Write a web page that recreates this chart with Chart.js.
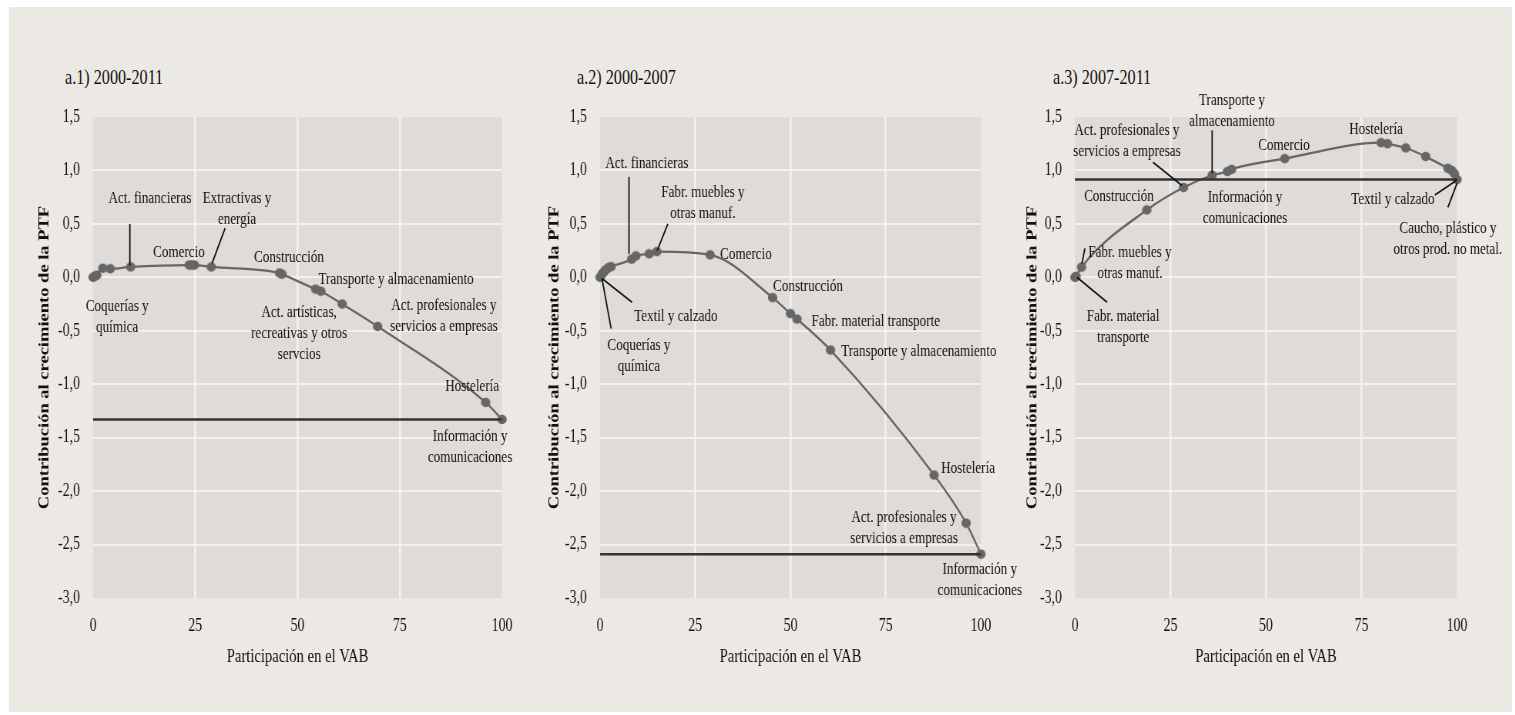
<!DOCTYPE html>
<html>
<head>
<meta charset="utf-8">
<script src="https://cdn.jsdelivr.net/npm/chart.js@4.4.0/dist/chart.umd.min.js"></script>
<style>
  html, body { margin: 0; padding: 0; background: #ffffff; width: 1515px; height: 715px; overflow: hidden; }
  #fondo { position: absolute; left: 9px; top: 7px; width: 1503px; height: 705px; background: #ece8e4; }
  .titulo { position: absolute; font-family: "Liberation Serif", "Times New Roman", serif; font-size: 21px;
            color: #111111; line-height: 24px; white-space: nowrap; transform: scaleX(0.77); transform-origin: 0 50%; }
  canvas { position: absolute; }
</style>
</head>
<body>
<div id="fondo"></div>
<div class="titulo" style="left:65px; top:65px">a.1) 2000-2011</div>
<div class="titulo" style="left:577px; top:65px">a.2) 2000-2007</div>
<div class="titulo" style="left:1053px; top:65px">a.3) 2007-2011</div>
<canvas id="g1"></canvas>
<canvas id="g2"></canvas>
<canvas id="g3"></canvas>
<script>
// a.1) 2000-2011 : participación acumulada en el VAB (x) y contribución acumulada a la PTF (y)
const part1 = [0, 0.4, 0.9, 2.4, 4.2, 9.2, 23.5, 24.2, 24.8, 28.9, 45.6, 46.2, 54.4, 55.7, 60.9, 69.6, 96.0, 100];
const contr1 = [0, 0.01, 0.02, 0.085, 0.08, 0.097, 0.115, 0.115, 0.115, 0.097, 0.04, 0.03, -0.11, -0.13, -0.25, -0.46, -1.17, -1.33];
const total1 = -1.33;

// a.2) 2000-2007
const part2 = [0, 0.5, 1, 1.5, 2.2, 2.9, 8.3, 9.4, 12.9, 14.9, 28.9, 45.3, 50.0, 51.7, 60.5, 87.7, 96.1, 100];
const contr2 = [0, 0.03, 0.05, 0.07, 0.09, 0.1, 0.17, 0.2, 0.22, 0.24, 0.21, -0.19, -0.34, -0.39, -0.68, -1.85, -2.3, -2.59];
const total2 = -2.59;

// a.3) 2007-2011
const part3 = [0, 0.3, 1.7, 18.8, 28.4, 35.9, 39.9, 41.0, 54.9, 80.1, 81.8, 86.6, 91.8, 97.6, 98.6, 99.3, 100];
const contr3 = [0, 0.01, 0.095, 0.63, 0.84, 0.955, 0.99, 1.01, 1.11, 1.26, 1.25, 1.21, 1.13, 1.02, 1.0, 0.97, 0.915];
const total3 = 0.915;

// ejes
const xTicks = [0, 25, 50, 75, 100];
const yTicks = [-3.0, -2.5, -2.0, -1.5, -1.0, -0.5, 0.0, 0.5, 1.0, 1.5];
const xTitle = 'Participación en el VAB';
const yTitle = 'Contribución al crecimiento de la PTF';

// etiquetas de sectores (posición del texto y línea guía en unidades de los ejes)
const etiquetas1 = [
  { t: ['Act. financieras'], x: 13.9, y: 0.74, guia: [9.0, 0.50, 9.0, 0.11] },
  { t: ['Extractivas y', 'energía'], x: 35.2, y: 0.74, guia: [32.3, 0.46, 29.1, 0.13] },
  { t: ['Comercio'], x: 21.0, y: 0.234 },
  { t: ['Construcción'], x: 47.9, y: 0.187 },
  { t: ['Transporte y almacenamiento'], x: 74.1, y: -0.019 },
  { t: ['Act. profesionales y', 'servicios a empresas'], x: 85.8, y: -0.26 },
  { t: ['Act. artísticas,', 'recreativas y otros', 'servcios'], x: 50.4, y: -0.33 },
  { t: ['Coquerías y', 'química'], x: 5.9, y: -0.27 },
  { t: ['Hostelería'], x: 92.7, y: -1.02 },
  { t: ['Información y', 'comunicaciones'], x: 92.2, y: -1.49 }
];
const etiquetas2 = [
  { t: ['Act. financieras'], x: 12.3, y: 1.06, guia: [7.6, 0.94, 7.6, 0.22] },
  { t: ['Fabr. muebles y', 'otras manuf.'], x: 27.0, y: 0.79, guia: [17.8, 0.50, 15.0, 0.25] },
  { t: ['Comercio'], x: 38.3, y: 0.215 },
  { t: ['Construcción'], x: 54.6, y: -0.084 },
  { t: ['Fabr. material transporte'], x: 72.4, y: -0.41 },
  { t: ['Transporte y almacenamiento'], x: 83.7, y: -0.69 },
  { t: ['Textil y calzado'], x: 19.9, y: -0.365, guia: [0.5, -0.01, 8.4, -0.234] },
  { t: ['Coquerías y', 'química'], x: 10.2, y: -0.64, guia: [0.5, -0.01, 2.9, -0.48] },
  { t: ['Hostelería'], x: 96.6, y: -1.79 },
  { t: ['Act. profesionales y', 'servicios a empresas'], x: 79.8, y: -2.245 },
  { t: ['Información y', 'comunicaciones'], x: 99.7, y: -2.73 }
];
const etiquetas3 = [
  { t: ['Transporte y', 'almacenamiento'], x: 41.1, y: 1.65, guia: [35.9, 1.375, 35.9, 0.973] },
  { t: ['Act. profesionales y', 'servicios a empresas'], x: 13.6, y: 1.37, guia: [20.4, 1.076, 28.0, 0.86] },
  { t: ['Comercio'], x: 54.7, y: 1.235 },
  { t: ['Hostelería'], x: 78.8, y: 1.385 },
  { t: ['Construcción'], x: 11.5, y: 0.76 },
  { t: ['Información y', 'comunicaciones'], x: 44.5, y: 0.75 },
  { t: ['Textil y calzado'], x: 83.2, y: 0.73, guia: [94.2, 0.77, 100, 0.91] },
  { t: ['Caucho, plástico y', 'otros prod. no metal.'], x: 97.6, y: 0.46, guia: [97.6, 0.655, 100, 0.88] },
  { t: ['Fabr. muebles y', 'otras manuf.'], x: 14.4, y: 0.234, guia: [2.6, 0.27, 1.8, 0.13] },
  { t: ['Fabr. material', 'transporte'], x: 12.6, y: -0.365, guia: [0.5, 0, 8.4, -0.234] }
];

// el original está comprimido en horizontal; se dibuja más ancho y se encoge con CSS
const SQ = 0.77;
const FUENTE = '"Liberation Serif", "Times New Roman", serif';
const TINTA = '#111111';
const ARRIBA = 80, ABAJO = 672, AREA_ARRIBA = 117, AREA_ABAJO = 598;

// punto redondo una vez encogido
function crearPunto(r, color) {
  const c = document.createElement('canvas');
  c.width = Math.round(2 * r / SQ) + 2;
  c.height = 2 * r + 2;
  const g = c.getContext('2d');
  g.fillStyle = color;
  g.beginPath();
  g.ellipse(c.width / 2, c.height / 2, r / SQ, r, 0, 0, Math.PI * 2);
  g.fill();
  return c;
}
const punto = crearPunto(4.7, '#666666');

const fondoArea = {
  id: 'fondoArea',
  beforeDraw(chart) {
    const { ctx, chartArea: a } = chart;
    ctx.save();
    ctx.fillStyle = '#dfdbd8';
    ctx.fillRect(a.left, a.top, a.right - a.left, a.bottom - a.top);
    ctx.restore();
  }
};

function pluginEtiquetas(lista) {
  return {
    id: 'etiquetas',
    afterDraw(chart) {
      const { ctx, scales: { x, y } } = chart;
      ctx.save();
      ctx.strokeStyle = TINTA;
      ctx.lineWidth = 1.8;
      lista.forEach(e => {
        if (!e.guia) return;
        ctx.beginPath();
        ctx.moveTo(x.getPixelForValue(e.guia[0]), y.getPixelForValue(e.guia[1]));
        ctx.lineTo(x.getPixelForValue(e.guia[2]), y.getPixelForValue(e.guia[3]));
        ctx.stroke();
      });
      ctx.fillStyle = TINTA;
      ctx.font = '17px ' + FUENTE;
      ctx.textAlign = 'center';
      ctx.textBaseline = 'middle';
      lista.forEach(e => {
        const px = x.getPixelForValue(e.x), py = y.getPixelForValue(e.y);
        e.t.forEach((linea, i) => ctx.fillText(linea, px, py + i * 21));
      });
      ctx.restore();
    }
  };
}

function dibujarPanel(id, xs, ys, total, etiquetas, caja) {
  const cv = document.getElementById(id);
  const ancho = caja.right - caja.left;
  cv.width = Math.round(ancho / SQ);
  cv.height = ABAJO - ARRIBA;
  cv.style.left = caja.left + 'px';
  cv.style.top = ARRIBA + 'px';
  cv.style.width = ancho + 'px';
  cv.style.height = (ABAJO - ARRIBA) + 'px';
  const anchoY = (caja.chartLeft - caja.left) / SQ;
  const margenDer = (caja.right - caja.chartRight) / SQ;

  const rejilla = (grosor) => ({
    drawTicks: false,
    lineWidth: grosor,
    color: c => (c.tick && (c.index === 0 || c.index === c.chart.scales[c.scale.id].ticks.length - 1)) ? 'rgba(0,0,0,0)' : '#f3f1ef'
  });

  new Chart(cv, {
    type: 'scatter',
    data: {
      datasets: [
        {
          data: [{ x: xTicks[0], y: total }, { x: xTicks[xTicks.length - 1], y: total }],
          showLine: true, borderColor: '#333333', borderWidth: 2.5, pointRadius: 0, clip: false
        },
        {
          data: xs.map((v, i) => ({ x: v, y: ys[i] })),
          showLine: true, borderColor: '#666666', borderWidth: 2.3,
          pointStyle: punto, pointRadius: 4.7,
          cubicInterpolationMode: 'monotone', clip: false
        }
      ]
    },
    options: {
      responsive: false,
      animation: false,
      devicePixelRatio: 1,
      layout: { padding: { top: AREA_ARRIBA - ARRIBA, right: margenDer, left: 0, bottom: 0 } },
      plugins: { legend: { display: false }, tooltip: { enabled: false } },
      scales: {
        x: {
          type: 'linear',
          min: xTicks[0], max: xTicks[xTicks.length - 1],
          afterBuildTicks: s => { s.ticks = xTicks.map(v => ({ value: v })); },
          afterFit: s => { s.height = ABAJO - AREA_ABAJO; },
          ticks: { padding: 17, color: TINTA, font: { family: FUENTE, size: 18 } },
          grid: rejilla(2.6),
          border: { display: false },
          title: { display: true, text: xTitle, color: TINTA, font: { family: FUENTE, size: 19 } }
        },
        y: {
          min: yTicks[0], max: yTicks[yTicks.length - 1],
          afterBuildTicks: s => { s.ticks = yTicks.map(v => ({ value: v })); },
          afterFit: s => { s.width = anchoY; },
          ticks: {
            padding: 17, color: TINTA, font: { family: FUENTE, size: 18 },
            callback: v => v.toFixed(1).replace('.', ',')
          },
          grid: rejilla(2),
          border: { display: false },
          title: { display: true, text: yTitle, color: TINTA, font: { family: FUENTE, size: 18.5, weight: 'bold' } }
        }
      }
    },
    plugins: [fondoArea, pluginEtiquetas(etiquetas)]
  });
}

dibujarPanel('g1', part1, contr1, total1, etiquetas1, { left: 33, right: 530, chartLeft: 93, chartRight: 502 });
dibujarPanel('g2', part2, contr2, total2, etiquetas2, { left: 543, right: 1030, chartLeft: 600, chartRight: 981 });
dibujarPanel('g3', part3, contr3, total3, etiquetas3, { left: 1021, right: 1512, chartLeft: 1075, chartRight: 1457 });
</script>
</body>
</html>
